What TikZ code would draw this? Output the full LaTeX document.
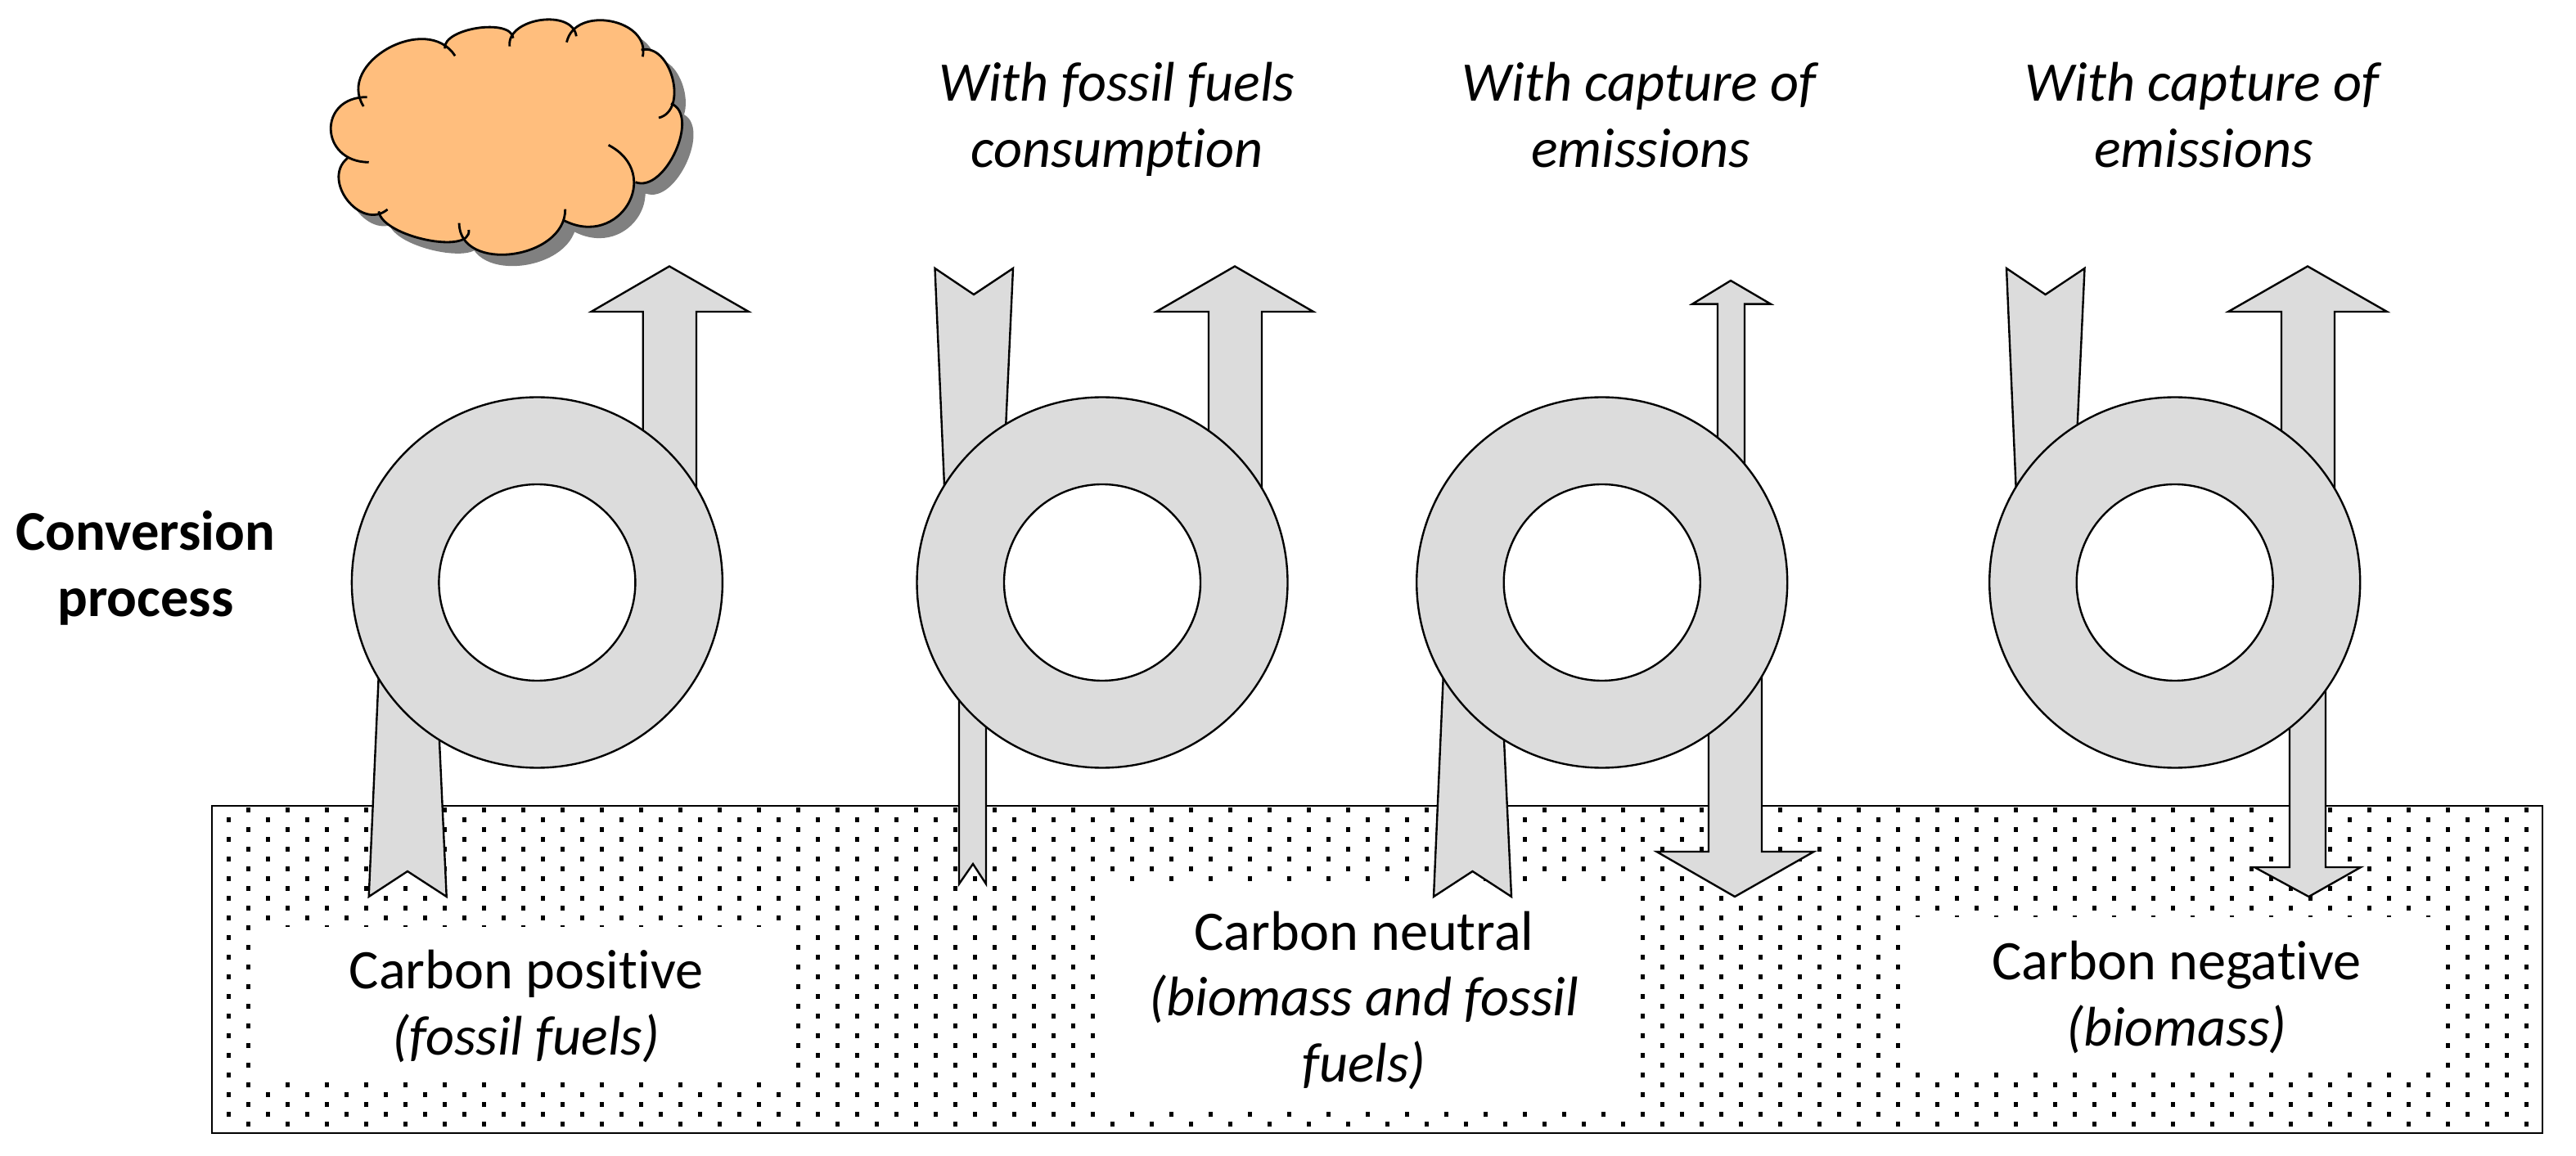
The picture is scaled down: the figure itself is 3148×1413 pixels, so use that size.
\documentclass[tikz,border=0pt]{standalone}
\usepackage{fontspec}
\setmainfont{Carlito}[Ligatures=NoCommon]
\usetikzlibrary{calc}
\definecolor{ringgray}{HTML}{DCDCDC}
\definecolor{cloudfill}{HTML}{FFBE7D}
\definecolor{cloudshadow}{HTML}{808080}
\tikzset{
  thinline/.style={line width=0.68pt,draw=black,line join=miter},
  flow/.style={thinline,fill=ringgray},
  ringouter/.style={thinline,fill=ringgray},
  ringinner/.style={thinline,fill=white},
  ground/.style={line width=0.72pt,draw=black,fill=white},
  patch/.style={fill=white,draw=none},
  label/.style={align=center,inner sep=0pt,font=\fontsize{19.4pt}{23pt}\selectfont},
  cloudline/.style={line width=0.8pt,draw=black,line cap=butt}
}
\newcommand{\arcpath}[3]{(#1) .. controls ($0.333*(#1)+1.333*(#2)-0.667*(#3)$) and ($0.333*(#3)+1.333*(#2)-0.667*(#1)$) .. (#3)}
\newcommand{\cloudarcs}[1]{%
  #1 \arcpath{180,390}{265,177}{493,205};
  #1 \arcpath{458,178}{570,103}{692,140};
  #1 \arcpath{680,170}{785,74}{908,133};
  #1 \arcpath{875,155}{1027,78}{1135,208};
  #1 \arcpath{1130,183}{1238,288}{1190,432};
  #1 \arcpath{1232,380}{1248,556}{1110,668};
  #1 \arcpath{1018,532}{1085,750}{865,808};
  #1 \arcpath{870,767}{690,932}{507,818};
  #1 \arcpath{540,843}{395,880}{232,775};
  #1 \arcpath{262,768}{125,735}{125,580};
  #1 \arcpath{198,595}{68,475}{192,356};
}
\newcommand{\cloudcore}{(178,360)--(458,178)--(692,140)--(890,140)--(1132,190)--(1232,380)--(1110,668)--(865,808)--(540,843)--(232,775)--(125,580)--cycle}
\begin{document}
\begin{tikzpicture}[x=0.01cm,y=-0.01cm]
\useasboundingbox (0,0) rectangle (3148,1413);
% ground
\draw[ground] (259,985) rectangle (3107,1385);
\foreach \i in {0,...,58}{
  \foreach \j in {0,...,16}{
    \fill[black] ({303.6+48*\i-2.6},{990+24*\j-2.6}) rectangle ++(5.2,5.2);
  }
  \foreach \j in {0,...,15}{
    \fill[black] ({279.6+48*\i-2.6},{1002+24*\j-2.6}) rectangle ++(5.2,5.2);
  }
}
\fill[patch] (312,1133) rectangle (964,1320);
\fill[patch] (1348,1080) rectangle (1995,1356);
\fill[patch] (2330,1121) rectangle (2979,1308);
% cloud
\begin{scope}[shift={(393,13)},x=0.01cm/2.8,y=-0.01cm/3]
  \cloudarcs{\path[fill=cloudshadow,draw=cloudshadow,line width=0.5pt]}
  \path[fill=cloudshadow,draw=cloudshadow,line width=0.5pt] \cloudcore;
\end{scope}
\begin{scope}[shift={(380,0)},x=0.01cm/2.8,y=-0.01cm/3]
  \cloudarcs{\path[fill=cloudfill,draw=cloudfill,line width=0.5pt]}
  \path[fill=cloudfill,draw=cloudfill,line width=0.5pt] \cloudcore;
  \cloudarcs{\draw[cloudline]}
\end{scope}
% flows, first group
\draw[flow] (465,775) -- (450.7,1096) -- (498,1065) -- (545.7,1096) -- (533.5,830) -- cycle;
\draw[flow] (785.7,600) -- (785.7,381) -- (722.5,381) -- (818,325.5) -- (915,381) -- (851,381) -- (851,640) -- cycle;
% second group
\draw[flow] (1156,640) -- (1142.5,328) -- (1190,360) -- (1238,328) -- (1226,590) -- cycle;
\draw[flow] (1477,600) -- (1477,381) -- (1413,381) -- (1509,325.5) -- (1605,381) -- (1542,381) -- (1542,640) -- cycle;
\draw[flow] (1172,800) -- (1172,1080.5) -- (1189,1056) -- (1205,1080.5) -- (1205,850) -- cycle;
% third group
\draw[flow] (1766,775) -- (1752,1096) -- (1799.5,1065) -- (1847,1096) -- (1834.5,830) -- cycle;
\draw[flow] (2099,600) -- (2099,371.7) -- (2068,371.7) -- (2115,343) -- (2164,371.7) -- (2132,371.7) -- (2132,640) -- cycle;
\draw[flow] (2088,850) -- (2088,1041) -- (2024.5,1041) -- (2120,1096) -- (2216.6,1041) -- (2153,1041) -- (2153,800) -- cycle;
% fourth group
\draw[flow] (2465.5,640) -- (2452,328) -- (2499.6,360) -- (2547.5,328) -- (2535.5,590) -- cycle;
\draw[flow] (2788,600) -- (2788,381) -- (2723,381) -- (2820,325.5) -- (2917,381) -- (2853,381) -- (2853,640) -- cycle;
\draw[flow] (2798,850) -- (2798,1060) -- (2755,1060) -- (2821.4,1096) -- (2885,1060) -- (2842,1060) -- (2842,800) -- cycle;
% rings
\foreach \cx in {656.4,1347,1957.7,2657.7}{
  \draw[ringouter] (\cx,712) circle [x radius=226.5,y radius=226.5];
  \draw[ringinner] (\cx,712) circle [x radius=120,y radius=120];
}
% labels
\node[label] (positive) at (643,1230) {Carbon positive\\\textit{(fossil fuels)}};
\node[label] (neutral) at (1667,1223) {Carbon neutral\\\textit{(biomass and fossil}\\\textit{fuels)}};
\node[label] (negative) at (2660,1219) {Carbon negative\\\textit{(biomass)}};
\node[label] (fossiluse) at (1365,146) {\textit{With fossil fuels}\\\textit{consumption}};
\node[label] (captureA) at (2005,141) {\textit{With capture of}\\\textit{emissions}};
\node[label] (captureB) at (2693,141) {\textit{With capture of}\\\textit{emissions}};
\node[label,font=\fontsize{19.5pt}{23pt}\selectfont\bfseries] (conversion) at (178,694) {Conversion\\process};
\end{tikzpicture}
\end{document}
